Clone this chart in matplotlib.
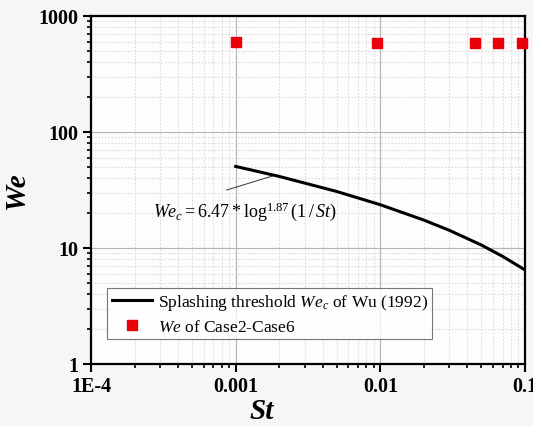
import matplotlib
matplotlib.use("Agg")
import matplotlib.pyplot as plt
from matplotlib.ticker import LogLocator, FixedLocator, FixedFormatter, NullFormatter

plt.rcParams['font.family'] = ['Liberation Serif', 'DejaVu Serif']
plt.rcParams['mathtext.fontset'] = 'custom'
plt.rcParams['mathtext.rm'] = 'Liberation Serif'
plt.rcParams['mathtext.it'] = 'Liberation Serif:italic'
plt.rcParams['mathtext.bf'] = 'Liberation Serif:bold'

# threshold curve
curve_st = [0.001, 0.002, 0.005, 0.01, 0.02, 0.03, 0.05, 0.07, 0.1]
curve_we = [50.5, 41.4, 30.7, 23.6, 17.4, 14.2, 10.6, 8.47, 6.47]

# cases
case_st = [0.001, 0.0095, 0.045, 0.065, 0.095]
case_we = [600, 580, 590, 585, 590]

x_ticks = [1e-4, 1e-3, 1e-2, 1e-1]
x_labels = ['1E-4', '0.001', '0.01', '0.1']
y_ticks = [1, 10, 100, 1000]
y_labels = ['1', '10', '100', '1000']

fig = plt.figure(figsize=(5.33, 4.27), dpi=100, facecolor='#f6f6f6')
ax = fig.add_axes([91/533, 1-365/427, (525-91)/533, (365-17)/427])
ax.set_facecolor('#fdfdfd')
ax.set_xscale('log')
ax.set_yscale('log')
ax.set_xlim(1e-4, 1e-1)
ax.set_ylim(1, 1000)

ax.grid(which='major', color='#b4b4b4', linewidth=0.8, linestyle='-')
ax.grid(which='minor', color='#dadada', linewidth=0.8, linestyle=(0, (1.5, 1.5)))
ax.set_axisbelow(True)

ax.plot(curve_st, curve_we, color='black', linewidth=2.2,
        label=r'Splashing threshold $We_c$ of Wu (1992)', zorder=3)
ax.plot(case_st, case_we, linestyle='none', marker='s', color='#e8000b',
        markersize=6.5, label=r'$We$ of Case2-Case6', zorder=4, clip_on=False)

ax.xaxis.set_major_locator(FixedLocator(x_ticks))
ax.xaxis.set_major_formatter(FixedFormatter(x_labels))
ax.yaxis.set_major_locator(FixedLocator(y_ticks))
ax.yaxis.set_major_formatter(FixedFormatter(y_labels))
ax.xaxis.set_minor_locator(LogLocator(base=10, subs=range(2, 10)))
ax.yaxis.set_minor_locator(LogLocator(base=10, subs=range(2, 10)))
ax.xaxis.set_minor_formatter(NullFormatter())
ax.yaxis.set_minor_formatter(NullFormatter())

ax.tick_params(which='major', direction='out', length=6, width=1.5, labelsize=14.5,
               top=False, right=False, pad=3)
ax.tick_params(which='minor', direction='out', length=3, width=1.2, top=False, right=False)
for lab in ax.get_xticklabels() + ax.get_yticklabels():
    lab.set_fontweight('bold')
for s in ax.spines.values():
    s.set_linewidth(1.6)

ax.set_xlabel('St', fontsize=21, fontweight='bold', style='italic', labelpad=2)
ax.xaxis.set_label_coords((262-91)/434, -0.095)
ax.set_ylabel('We', fontsize=21, fontweight='bold', style='italic', labelpad=6)

# annotation leader line and formula
ax.plot([0.000867, 0.0018], [31.6, 41.8], color='#333333', linewidth=0.7, zorder=2)
ax.text(0.00115, 21.0, r'$We_c = 6.47*\log^{1.87}(1\,/\,St)$', fontsize=13,
        ha='center', va='center')

leg = ax.legend(loc='lower left', bbox_to_anchor=(0.038, 0.072), fontsize=12.5,
                frameon=True, fancybox=False, edgecolor='#555555',
                borderpad=0.25, handlelength=2.3, labelspacing=0.35,
                handletextpad=0.35, borderaxespad=0)
leg.get_frame().set_linewidth(0.8)

fig.savefig('out.png', dpi=100, facecolor=fig.get_facecolor())
